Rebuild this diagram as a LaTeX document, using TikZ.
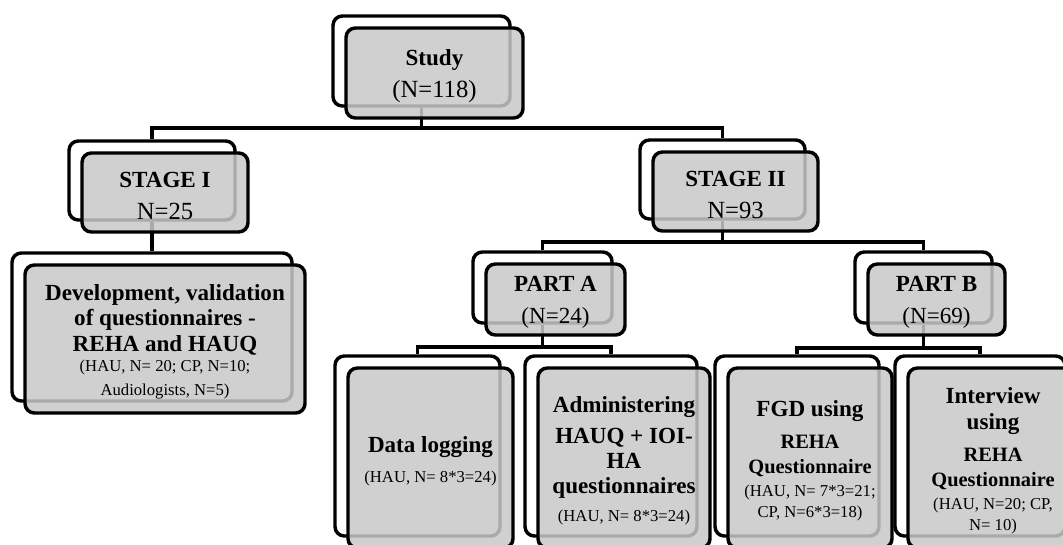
\documentclass[tikz,border=0pt]{standalone}
\usepackage{fontspec}
\setmainfont{Liberation Serif}
\usetikzlibrary{fit,backgrounds,calc}
\definecolor{boxgray}{gray}{0.785}
\tikzset{
  backbox/.style={draw=black, line width=2.6pt, rounded corners=7pt, fill=white, inner sep=0pt},
  frontbox/.style={draw=black, line width=2.6pt, rounded corners=7pt, fill=boxgray,
    fill opacity=0.85, draw opacity=1, inner sep=0pt},
  boxtext/.style={align=center, inner sep=0pt, font=\fontsize{17.3}{19}\selectfont},
  conn/.style={draw=black, line width=2.3pt, line join=miter},
}
\newcommand\btx[1]{{\bfseries #1}}
\newcommand\ntx[2]{{\fontsize{#1}{19}\selectfont #2}}
\newcommand\rqx[1]{{\fontsize{15.3}{17}\selectfont\bfseries #1}}
\newcommand\smtxt[1]{{\fontsize{12.5}{15}\selectfont #1}}
\newcommand\twinbox[6]{%
  \node[backbox, fit={(#2-13,#3-12)(#4-13,#5-12)}] (#1b) {};
  \node[frontbox, fit={(#2,#3)(#4,#5)}] (#1) {};
  \node[boxtext] (#1t) at ($(#1.center)+(0,3)$) {#6};}
\begin{document}
\begin{tikzpicture}[x=0.75pt,y=-0.75pt]
\useasboundingbox (0,0) rectangle (1063,545);
\clip (0,0) rectangle (1063,545);
\twinbox{study}{346}{28}{523}{118}{\btx{Study}\\[5pt]\ntx{18.5}{(N=118)}}
\twinbox{sone}{82}{153}{248}{232}{\btx{STAGE I}\\[5pt]\ntx{18.5}{N=25}}
\twinbox{stwo}{653}{152}{818}{231}{\btx{STAGE II}\\[5pt]\ntx{18.5}{N=93}}
\twinbox{dev}{25}{265}{305}{413}{\btx{Development, validation}\\\btx{of questionnaires -}\\\btx{REHA and HAUQ}\\[-3.5pt]\smtxt{(HAU, N= 20; CP, N=10;}\\[-1pt]\smtxt{Audiologists, N=5)}}
\twinbox{pa}{486}{264}{625}{335}{\btx{PART A}\\[5pt]\ntx{17.3}{(N=24)}}
\twinbox{pb}{868}{264}{1005}{335}{\btx{PART B}\\[5pt]\ntx{17.3}{(N=69)}}
\twinbox{data}{348}{368}{513}{548}{\btx{Data logging}\\[3.5pt]\smtxt{(HAU, N= 8*3=24)}}
\twinbox{admin}{538}{368}{710}{548}{\btx{Administering}\\[4pt]\btx{HAUQ + IOI-}\\\btx{HA}\\\btx{questionnaires}\\[2pt]\smtxt{(HAU, N= 8*3=24)}}
\twinbox{fgd}{728}{368}{892}{548}{\btx{FGD using}\\[5pt]\rqx{REHA}\\\rqx{Questionnaire}\\[-2pt]\smtxt{(HAU, N= 7*3=21;}\\[-3pt]\smtxt{CP, N=6*3=18)}}
\twinbox{intv}{908}{368}{1078}{548}{\btx{Interview}\\\btx{using}\\[5pt]\rqx{REHA}\\\rqx{Questionnaire}\\[-2pt]\smtxt{(HAU, N=20; CP,}\\[-3pt]\smtxt{N= 10)}}
\coordinate (bus0) at (0,128);
\coordinate (bus2) at (0,242);
\coordinate (bus3) at (0,347);
\coordinate (bus4) at (0,348);
\begin{pgfonlayer}{background}
\draw[conn] (studyb.south) -- (studyb.south |- bus0);
\draw[conn] (soneb.north) |- (stwob.north |- bus0) -- (stwob.north);
\draw[conn] (soneb.south) -- (soneb.south |- devb.north);
\draw[conn] (stwob.south) -- (stwob.south |- bus2);
\draw[conn] (pab.north) |- (pbb.north |- bus2) -- (pbb.north);
\draw[conn] (pab.south) -- (pab.south |- bus3);
\draw[conn] (datab.north) |- (adminb.north |- bus3) -- (adminb.north);
\draw[conn] (pbb.south) -- (pbb.south |- bus4);
\draw[conn] (fgdb.north) |- (intvb.north |- bus4) -- (intvb.north);
\end{pgfonlayer}
\end{tikzpicture}
\end{document}
